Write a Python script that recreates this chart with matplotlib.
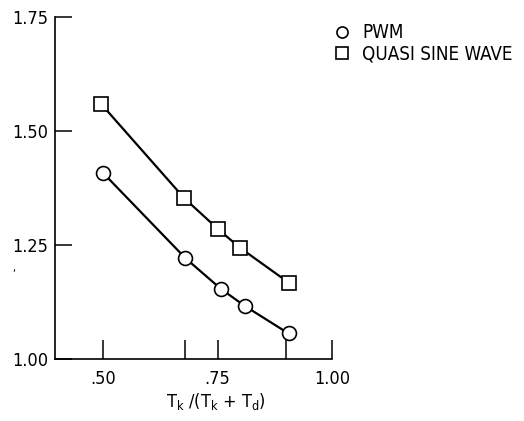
import matplotlib
matplotlib.use("Agg")
import matplotlib.pyplot as plt
from matplotlib.lines import Line2D

plt.rcParams['font.family'] = ['DejaVu Sans']
plt.rcParams['font.stretch'] = 'condensed'

pwm_x = [0.50, 0.68, 0.757, 0.81, 0.905]
pwm_y = [1.408, 1.221, 1.154, 1.116, 1.056]
qsw_x = [0.496, 0.677, 0.752, 0.799, 0.906]
qsw_y = [1.559, 1.353, 1.284, 1.244, 1.167]

xticks = [0.50, 0.68, 0.75, 0.90, 1.00]
xlabels = ['.50', '', '.75', '', '1.00']
yticks = [1.00, 1.25, 1.50, 1.75]
ylabels = ['1.00', '1.25', '1.50', '1.75']

fig = plt.figure(figsize=(5.24, 4.21), dpi=100)
ax = fig.add_axes([55/524, 1-359/421, 277/524, 342/421])

ax.plot(qsw_x, qsw_y, color='black', lw=1.6, marker='s', ms=10,
        mfc='white', mec='black', mew=1.2, clip_on=False, zorder=3)
ax.plot(pwm_x, pwm_y, color='black', lw=1.6, marker='o', ms=10,
        mfc='white', mec='black', mew=1.2, clip_on=False, zorder=3)

ax.set_xlim(0.395, 1.00)
ax.set_ylim(1.00, 1.75)
ax.set_xticks(xticks)
ax.set_xticklabels(xlabels)
ax.set_yticks(yticks)
ax.set_yticklabels(ylabels)
ax.tick_params(axis='x', direction='in', length=14, width=1.1, labelsize=13, pad=8)
ax.tick_params(axis='y', direction='in', length=12, width=1.1, labelsize=13, pad=5)
for s in ['top', 'right']:
    ax.spines[s].set_visible(False)
for s in ['left', 'bottom']:
    ax.spines[s].set_linewidth(1.2)

ax.set_xlabel(r'T$_\mathregular{k}$ /(T$_\mathregular{k}$ + T$_\mathregular{d}$)', fontsize=13)
ax.xaxis.set_label_coords((216-55)/277, -0.095)

handles = [Line2D([], [], ls='none', marker='o', ms=8, mfc='white', mec='black', mew=1.2),
           Line2D([], [], ls='none', marker='s', ms=8, mfc='white', mec='black', mew=1.2)]
fig.legend(handles, ['PWM', 'QUASI SINE WAVE'], loc='upper left',
           bbox_to_anchor=(323/524, 1-14/421), frameon=False, fontsize=13.5,
           handlelength=1.0, handletextpad=0.6, labelspacing=0.1, borderpad=0)

fig.text(12/524, 1-271/421, ',', fontsize=8)

fig.savefig('out.png', dpi=100)
